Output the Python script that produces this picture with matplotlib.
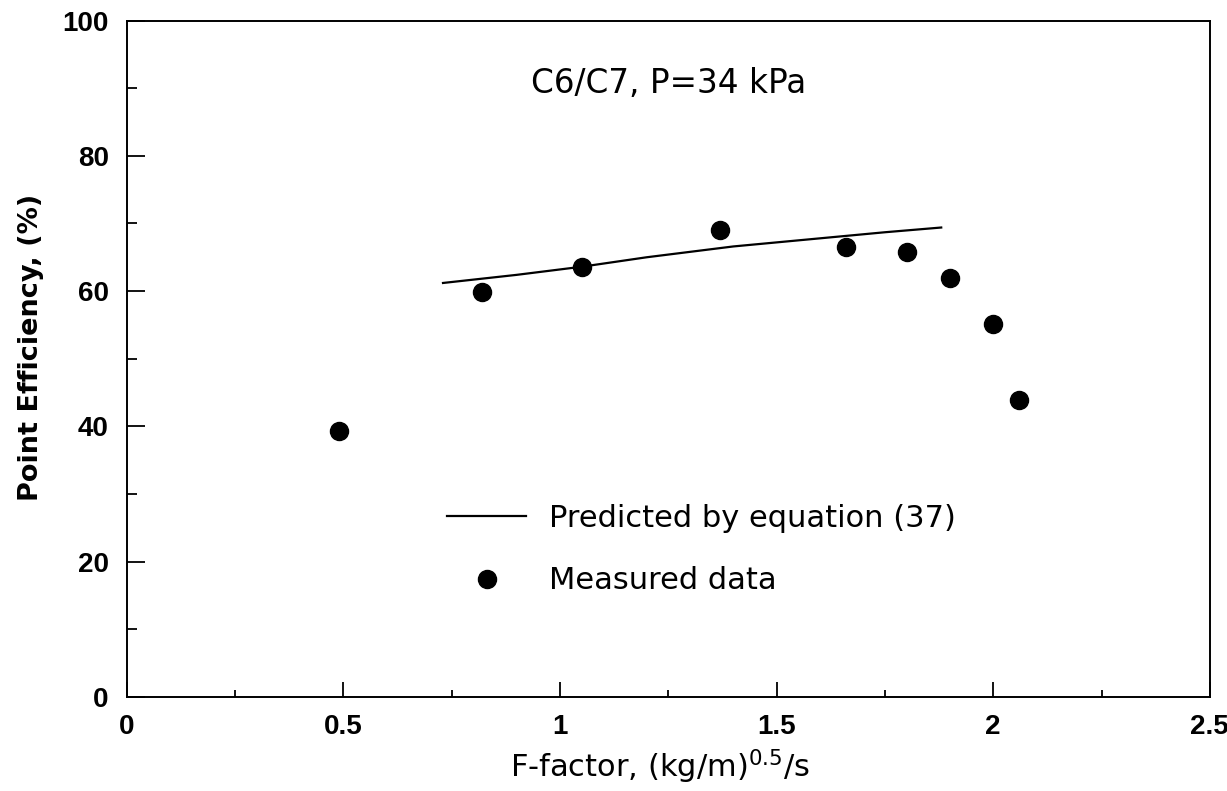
import matplotlib
matplotlib.use("Agg")
import matplotlib.pyplot as plt
from matplotlib.ticker import MultipleLocator

plt.rcParams["font.family"] = ["DejaVu Sans"]
plt.rcParams["mathtext.fontset"] = "dejavusans"

# measured point efficiency vs F-factor
f_meas = [0.49, 0.82, 1.05, 1.37, 1.66, 1.80, 1.90, 2.00, 2.06]
eff_meas = [39.3, 59.9, 63.6, 69.0, 66.5, 65.8, 62.0, 55.2, 43.9]

# predicted by equation (37)
f_pred = [0.73, 0.90, 1.05, 1.20, 1.40, 1.60, 1.75, 1.88]
eff_pred = [61.2, 62.4, 63.6, 65.0, 66.6, 67.8, 68.7, 69.4]

x_ticks = [0, 0.5, 1, 1.5, 2, 2.5]
x_labels = ["0", "0.5", "1", "1.5", "2", "2.5"]
y_ticks = [0, 20, 40, 60, 80, 100]

fig = plt.figure(figsize=(12.27, 7.91), dpi=100)
ax = fig.add_axes([0.1033, 0.119, 0.8827, 0.855])

ax.plot(f_pred, eff_pred, color="black", lw=1.6, label="Predicted by equation (37)")
ax.plot(f_meas, eff_meas, "o", color="black", ms=13, ls="none", label="Measured data")

ax.set_xlim(0, 2.5)
ax.set_ylim(0, 100)
ax.set_xticks(x_ticks)
ax.set_xticklabels(x_labels)
ax.set_yticks(y_ticks)
ax.xaxis.set_minor_locator(MultipleLocator(0.25))
ax.yaxis.set_minor_locator(MultipleLocator(10))
ax.tick_params(axis="x", which="major", direction="in", length=11, width=1.3, pad=12)
ax.tick_params(axis="x", which="minor", direction="in", length=5, width=1.3)
ax.tick_params(axis="y", which="major", direction="in", length=13, width=1.3, pad=13)
ax.tick_params(axis="y", which="minor", direction="in", length=7, width=1.3)
for lab in ax.get_xticklabels() + ax.get_yticklabels():
    lab.set_family("Liberation Sans")
    lab.set_fontsize(20)
    lab.set_fontweight("bold")
for s in ax.spines.values():
    s.set_linewidth(1.4)

ax.set_xlabel(r"F-factor, (kg/m)$^{0.5}$/s", fontsize=22)
ax.xaxis.set_label_coords(0.492, -0.075)
ax.set_ylabel("Point Efficiency, (%)", fontsize=19.5, fontweight="bold")
ax.yaxis.set_label_coords(-0.076, 0.517)

ax.text(1.25, 90.7, "C6/C7, P=34 kPa", fontsize=23.5, ha="center", va="center")

ax.legend(frameon=False, loc="upper left", bbox_to_anchor=(0.2957, 0.2856),
          fontsize=22, handlelength=2.6, handletextpad=0.75, labelspacing=1.1,
          borderpad=0, borderaxespad=0)

fig.savefig("out.png", dpi=100)
